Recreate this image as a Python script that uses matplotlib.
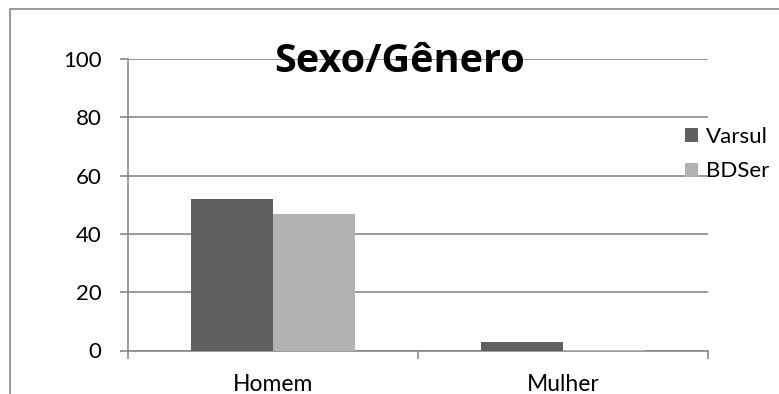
import matplotlib.pyplot as plt
from matplotlib.patches import Patch, Rectangle
import numpy as np

plt.rcParams["font.family"] = ["Lato", "DejaVu Sans"]

CATEGORIES = ["Homem", "Mulher"]
SERIES = ["Varsul", "BDSer"]
VARSUL = [52.0, 3.0]
BDSER = [46.8, 0.3]
Y_TICKS = [0, 20, 40, 60, 80, 100]

COLORS = {"Varsul": "#606060", "BDSer": "#b2b2b2"}
GRID = "#898989"
W, H = 779, 394


def main() -> None:
    fig = plt.figure(figsize=(W / 100, H / 100), dpi=100)
    ax = fig.add_axes([128 / W, (H - 350.5) / H, 580 / W, 291.5 / H])

    x = np.arange(len(CATEGORIES))
    bw = 0.283
    ax.bar(x - bw / 2, VARSUL, bw, color=COLORS["Varsul"], zorder=3)
    ax.bar(x + bw / 2, BDSER, bw, color=COLORS["BDSer"], zorder=3)

    ax.set_xlim(-0.5, len(CATEGORIES) - 0.5)
    ax.set_ylim(0, 100)
    ax.set_yticks(Y_TICKS)
    ax.yaxis.grid(True, color=GRID, linewidth=1.2, zorder=0)
    ax.set_axisbelow(True)

    # category boundaries get the visible ticks, names sit on minor ticks
    ax.set_xticks(np.arange(len(CATEGORIES) + 1) - 0.5)
    ax.set_xticklabels([])
    ax.set_xticks(x, minor=True)
    ax.set_xticklabels(CATEGORIES, minor=True)
    ax.tick_params(axis="x", which="major", length=6, width=1.2, color=GRID)
    ax.tick_params(axis="x", which="minor", length=0, pad=17, labelsize=16.5)
    ax.tick_params(axis="y", length=6, width=1.2, color=GRID, pad=13, labelsize=16)

    for side in ("top", "right"):
        ax.spines[side].set_visible(False)
    for side in ("left", "bottom"):
        ax.spines[side].set_color(GRID)
        ax.spines[side].set_linewidth(1.2)

    fig.text(400 / W, 1 - 72 / H, "Sexo/Gênero", ha="center", va="baseline",
             fontsize=28.5, fontweight="bold", family="Open Sans", zorder=5)

    handles = [Patch(facecolor=COLORS[s], edgecolor="none") for s in SERIES]
    fig.legend(handles, SERIES, loc="upper left",
               bbox_to_anchor=(685 / W, 1 - 127 / H), frameon=False,
               fontsize=16, handlelength=0.6, handleheight=0.6,
               handletextpad=0.35, labelspacing=0.65, borderpad=0,
               borderaxespad=0)

    fig.add_artist(Rectangle((10 / W, -0.1), 1.0, (H - 9) / H + 0.1,
                             transform=fig.transFigure, fill=False,
                             edgecolor=GRID, linewidth=1.2))

    fig.savefig("out.png", dpi=100)
    plt.close(fig)


if __name__ == "__main__":
    main()
